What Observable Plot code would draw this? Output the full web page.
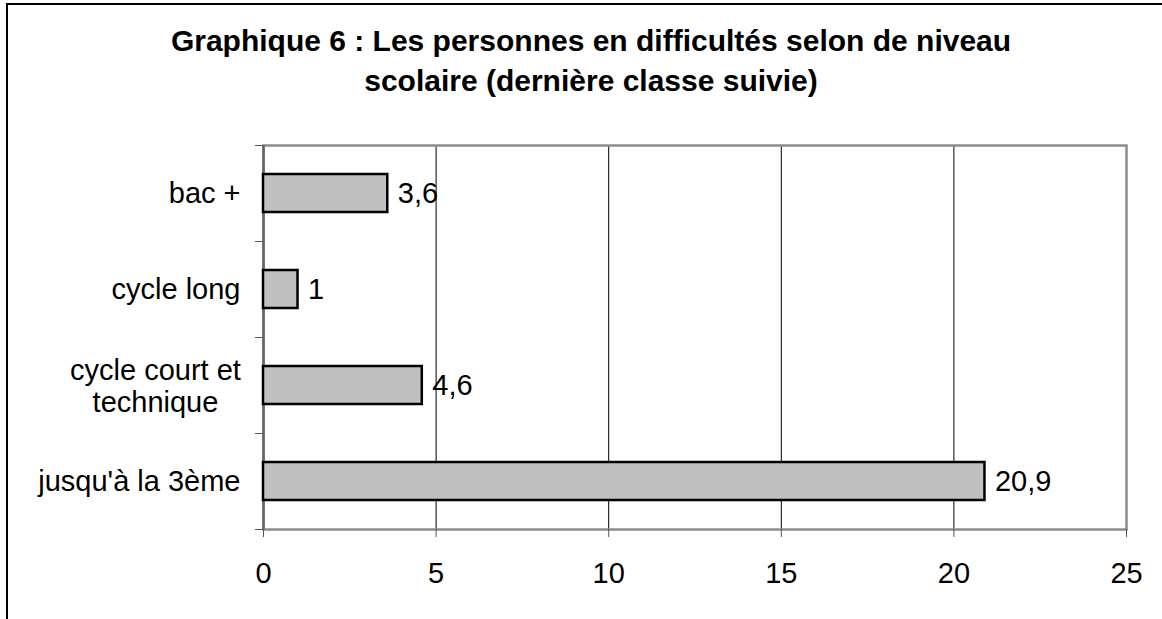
<!DOCTYPE html>
<html>
<head>
<meta charset="utf-8">
<script src="https://cdn.jsdelivr.net/npm/d3@7"></script>
<script src="https://cdn.jsdelivr.net/npm/@observablehq/plot@0.6"></script>
<style>
  html, body { margin: 0; padding: 0; background: white; }
  #wrap { position: relative; width: 1162px; height: 619px; overflow: hidden; background: white; font-family: "Liberation Sans", Arial, sans-serif; }
  #border { position: absolute; left: 6px; top: 3px; width: 1300px; height: 800px; border-left: 2px solid black; border-top: 2px solid black; box-sizing: border-box; }
  #title { position: absolute; left: 91px; width: 1000px; top: 21px; text-align: center; font-weight: bold; font-size: 30px; line-height: 40px; color: black; }
  #chart { position: absolute; left: 0; top: 110px; }
</style>
</head>
<body>
<div id="wrap">
  <div id="border"></div>
  <div id="title">Graphique 6 : Les personnes en difficultés selon de niveau<br>scolaire (dernière classe suivie)</div>
  <div id="chart"></div>
</div>
<script>
const categories = ["bac +", "cycle long", "cycle court et technique", "jusqu'à la 3ème"];
const categoryLabels = ["bac +", "cycle long", "cycle court et\ntechnique", "jusqu'à la 3ème"];
const values = [3.6, 1, 4.6, 20.9];
const xTicks = [0, 5, 10, 15, 20, 25];
const gridTicks = [5, 10, 15, 20];

const data = categories.map((c, i) => ({category: c, value: values[i]}));
const labelOf = new Map(categories.map((c, i) => [c, categoryLabels[i]]));
const singleLine = categories.filter(c => !labelOf.get(c).includes("\n"));
const multiLine = categories.filter(c => labelOf.get(c).includes("\n"));
const fmt = v => String(v).replace(".", ",");
const FONT = 29;

const chart = Plot.plot({
  width: 1162,
  height: 509,
  marginTop: 35,
  marginBottom: 90,
  marginLeft: 263,
  marginRight: 36,
  style: {fontFamily: "'Liberation Sans', Arial, sans-serif", fontSize: FONT + "px", color: "black", background: "transparent"},
  x: {domain: [0, 25]},
  y: {domain: categories, paddingInner: 0.6, paddingOuter: 0.3, align: 0.5},
  marks: [
    Plot.ruleX(gridTicks, {stroke: "black", strokeWidth: 1, strokeOpacity: 1}),
    Plot.frame({stroke: "#8c8c8c", strokeWidth: 2.5}),
    Plot.ruleX([0], {stroke: "#666", strokeWidth: 2.5}),
    Plot.barX(data, {x: "value", y: "category", fill: "#c0c0c0", stroke: "black", strokeWidth: 2.5}),
    Plot.text(data, {x: "value", y: "category", text: d => fmt(d.value), textAnchor: "start", dx: 10, fontSize: FONT, fill: "black"}),
    Plot.axisX({ticks: xTicks, tickSize: 8, tickPadding: 25, stroke: "#555", label: null, fontSize: FONT, color: "black"}),
    Plot.axisY(singleLine, {tickSize: 0, tickPadding: 23, label: null, fontSize: FONT, tickFormat: d => labelOf.get(d)}),
    Plot.axisY(multiLine, {tickSize: 0, tickPadding: 108, textAnchor: "middle", lineHeight: 1.13, label: null, fontSize: FONT, tickFormat: d => labelOf.get(d)}),
    Plot.axisY({tickSize: 8, dy: -48, stroke: "#555", label: null, tickFormat: () => ""}),
    Plot.axisY([categories[categories.length - 1]], {tickSize: 8, dy: 48, stroke: "#555", label: null, tickFormat: () => ""})
  ]
});
document.getElementById("chart").appendChild(chart);
</script>
</body>
</html>
